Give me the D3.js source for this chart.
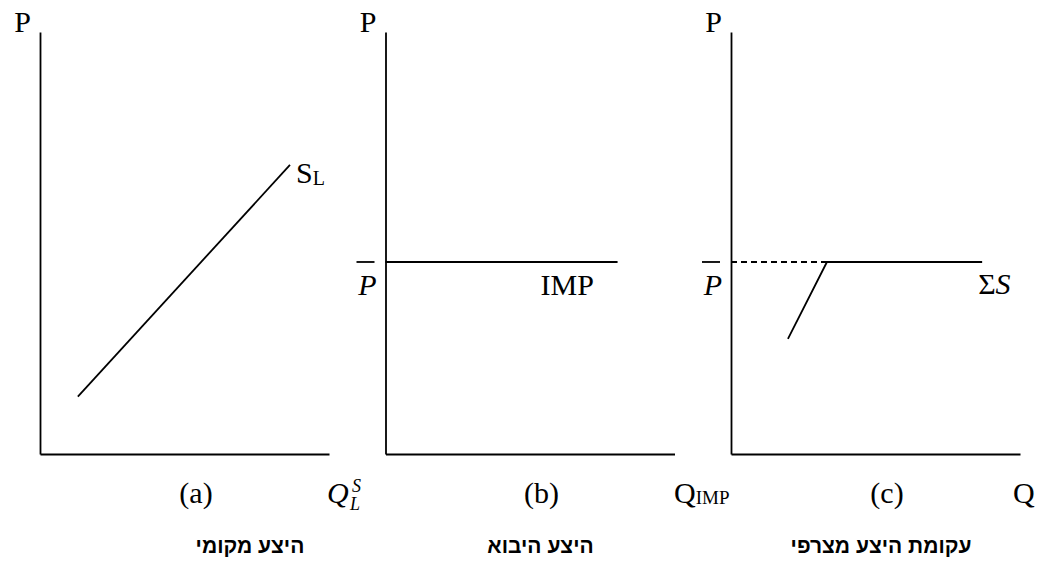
<!DOCTYPE html>
<html lang="he">
<head>
<meta charset="utf-8">
<title>Local, import and total supply</title>
<script src="https://d3js.org/d3.v7.min.js"></script>
<style>
  body { margin: 0; background: #fff; }
  .axis path { stroke: #000; stroke-width: 1.8px; }
  .lbl { font-family: "Liberation Serif", "Times New Roman", serif; font-size: 30px; fill: #000; }
  .cap { font-family: "Liberation Sans", Arial, sans-serif; font-weight: bold; font-size: 21px; fill: #000; }
</style>
</head>
<body>
<script>
// data, in axis units 0..100
const panelIds = ["a", "b", "c"];
const letters = ["(a)", "(b)", "(c)"];
const captions = ["היצע מקומי", "היצע היבוא", "עקומת היצע מצרפי"];
const pBar = 45.5;
const localSupply = [{q: 13.1, p: 13.6}, {q: 86.5, p: 68.5}];
const importSupply = [{q: 0, p: pBar}, {q: 80.3, p: pBar}];
const totalDashed = [{q: 0, p: pBar}, {q: 33.2, p: pBar}];
const totalSupply = [{q: 19.7, p: 27.3}, {q: 33.2, p: pBar}, {q: 86.9, p: pBar}];

const W = 1046, H = 561;
const origins = [40, 385.5, 731];   // x of each y axis
const axisTop = 32, base = 454;
const capX = [210, 155, 150];       // caption centers from origin
const qX = [287, 289.5, 282];       // quantity label start

const svg = d3.select("body").append("svg")
  .attr("width", W).attr("height", H);

const x = d3.scaleLinear().domain([0, 100]).range([0, 289]);
const y = d3.scaleLinear().domain([0, 100]).range([base, base - 422]);
const line = d3.line().x(d => x(d.q)).y(d => y(d.p));

const panels = svg.selectAll("g.panel")
  .data(panelIds).enter().append("g")
  .attr("class", "panel")
  .attr("transform", (d, i) => "translate(" + origins[i] + ",0)");

// axes without ticks
panels.append("g").attr("class", "axis")
  .attr("transform", "translate(0," + base + ")")
  .call(d3.axisBottom(x).tickValues([]).tickSizeOuter(0));
panels.append("g").attr("class", "axis")
  .call(d3.axisLeft(d3.scaleLinear().range([base, axisTop])).tickValues([]).tickSizeOuter(0));

panels.append("text").attr("class", "lbl")
  .attr("x", -9).attr("y", axisTop).attr("text-anchor", "end")
  .text("P");

panels.append("text").attr("class", "lbl")
  .attr("x", 156).attr("y", 503).attr("text-anchor", "middle")
  .text((d, i) => letters[i]);

panels.append("text").attr("class", "cap")
  .attr("x", (d, i) => capX[i]).attr("y", 553).attr("text-anchor", "middle")
  .attr("direction", "rtl")
  .text((d, i) => captions[i]);

const pa = panels.filter(d => d === "a"),
      pb = panels.filter(d => d === "b"),
      pc = panels.filter(d => d === "c");

const stroke = g => g.attr("fill", "none").attr("stroke", "#000").attr("stroke-width", 1.8);

// (a) local supply
pa.append("path").datum(localSupply).attr("d", line).call(stroke);
pa.append("text").attr("class", "lbl").attr("x", x(86.5) + 6).attr("y", y(68.5) + 18)
  .html('S<tspan font-size="20" dy="2">L</tspan>');
pa.append("text").attr("class", "lbl").attr("x", qX[0]).attr("y", 503)
  .attr("font-style", "italic").text("Q");
pa.append("text").attr("class", "lbl").attr("x", qX[0] + 25).attr("y", 492)
  .attr("font-style", "italic").style("font-size", "18px").text("S");
pa.append("text").attr("class", "lbl").attr("x", qX[0] + 23).attr("y", 510)
  .attr("font-style", "italic").style("font-size", "18px").text("L");

// (b) import supply
pb.append("path").datum(importSupply).attr("d", line).call(stroke);
pb.append("text").attr("class", "lbl").attr("x", x(80.3) - 77).attr("y", y(pBar) + 33)
  .text("IMP");
const qb = pb.append("text").attr("class", "lbl").attr("x", qX[1] - 1).attr("y", 503);
qb.append("tspan").text("Q");
qb.append("tspan").attr("font-size", 19).attr("dy", 1).text("IMP");

// (c) total supply
pc.append("path").datum(totalDashed).attr("d", line).call(stroke)
  .attr("stroke-dasharray", "6,4");
pc.append("path").datum(totalSupply).attr("d", line).call(stroke);
const sc = pc.append("text").attr("class", "lbl").attr("x", x(86.9) - 4).attr("y", y(pBar) + 32);
sc.append("tspan").text("Σ");
sc.append("tspan").attr("font-style", "italic").text("S");
pc.append("text").attr("class", "lbl").attr("x", qX[2]).attr("y", 503)
  .text("Q");

// P-bar labels on (b) and (c)
[pb, pc].forEach(g => {
  g.append("text").attr("class", "lbl").attr("x", -9).attr("y", y(pBar) + 33)
    .attr("text-anchor", "end").attr("font-style", "italic")
    .text("P");
  g.append("line").attr("x1", -29).attr("x2", -11)
    .attr("y1", y(pBar)).attr("y2", y(pBar))
    .attr("stroke", "#000").attr("stroke-width", 1.8);
});
</script>
</body>
</html>
